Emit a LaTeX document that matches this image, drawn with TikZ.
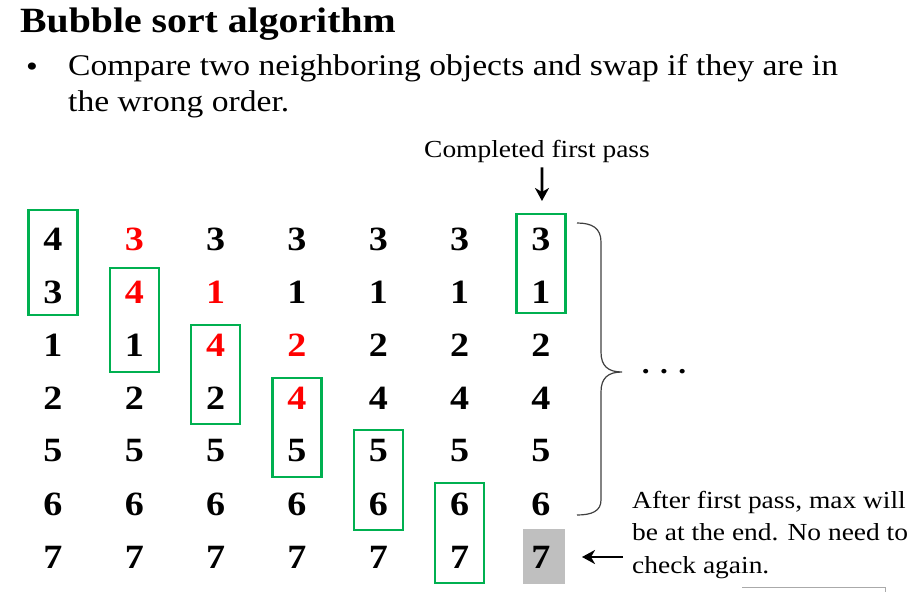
\documentclass[tikz,border=0pt]{standalone}
\usepackage{fontspec}
\setmainfont{Liberation Serif}[FakeStretch=1.12]
\usetikzlibrary{arrows.meta,calc}
\definecolor{boxgreen}{RGB}{0,176,80}
\definecolor{numred}{RGB}{255,0,0}
\definecolor{donegray}{RGB}{191,191,191}
\definecolor{bracegray}{RGB}{64,64,64}
\definecolor{framegray}{RGB}{170,170,170}
\tikzset{
  num/.style={font=\fontsize{34}{34}\selectfont\bfseries, inner sep=0pt, anchor=center},
  greenbox/.style={draw=boxgreen, line width=2.2pt},
  note/.style={font=\fontsize{24.5}{32.5}\selectfont, inner sep=0pt, align=left},
  pointer/.style={draw=black, line width=2.6pt, arrows={-Stealth[length=13pt, width=14pt, inset=4pt]}},
}
\begin{document}
\begin{tikzpicture}[x=1pt,y=-1pt]
\useasboundingbox (0,0) rectangle (922,592);

% heading and bullet
\node[anchor=west, inner sep=0pt, font=\fontsize{35.5}{35.5}\selectfont\bfseries] (title) at (20,24) {Bubble sort algorithm};
\node[anchor=center, inner sep=0pt, font=\fontsize{30}{30}\selectfont] (bullet) at (32,70) {\textbullet};
\node[anchor=north west, inner sep=0pt, align=left, font=\fontsize{30}{36}\selectfont] (desc) at (68,54)
  {Compare two neighboring objects and swap if they are in\\the wrong order.};

% the sorted-away maximum
\fill[donegray] (523,529) rectangle (565,584);

% columns of the first pass
\foreach \c/\vals in {
  1/{4/black,3/black,1/black,2/black,5/black,6/black,7/black},
  2/{3/numred,4/numred,1/black,2/black,5/black,6/black,7/black},
  3/{3/black,1/numred,4/numred,2/black,5/black,6/black,7/black},
  4/{3/black,1/black,2/numred,4/numred,5/black,6/black,7/black},
  5/{3/black,1/black,2/black,4/black,5/black,6/black,7/black},
  6/{3/black,1/black,2/black,4/black,5/black,6/black,7/black},
  7/{3/black,1/black,2/black,4/black,5/black,6/black,7/black}} {
  \foreach \v/\col [count=\r] in \vals {
    \node[num, text=\col] (n\c-\r) at ({53+81.33*(\c-1)},{239+53*(\r-1)}) {\v};
  }
}

% compared pairs
\draw[greenbox] ($(n1-1)+(-24.5,-29)$) rectangle ($(n1-2)+(24.5,23)$);
\draw[greenbox] ($(n2-2)+(-24.5,-24)$) rectangle ($(n2-3)+(24.5,27)$);
\draw[greenbox] ($(n3-3)+(-24.5,-20)$) rectangle ($(n3-4)+(24.5,26)$);
\draw[greenbox] ($(n4-4)+(-24.5,-20)$) rectangle ($(n4-5)+(24.5,26)$);
\draw[greenbox] ($(n5-5)+(-24.5,-21)$) rectangle ($(n5-6)+(24.5,26)$);
\draw[greenbox] ($(n6-6)+(-24.5,-21)$) rectangle ($(n6-7)+(24.5,26)$);
\draw[greenbox] ($(n7-1)+(-24.5,-25)$) rectangle ($(n7-2)+(24.5,21)$);
\coordinate (boxtop) at ($(n7-1)+(1,-38)$);

% brace over the remaining passes
\draw[bracegray, line width=1.2pt]
  (577,223) .. controls (592,223) and (601,228) .. (601,242)
  -- (601,352) .. controls (601,366) and (608,372) .. (622,372)
  .. controls (608,372) and (601,378) .. (601,392)
  -- (601,500) .. controls (601,511) and (592,515) .. (577,515);
\node[inner sep=0pt, font=\fontsize{28}{28}\selectfont\bfseries] (dots) at (664,372) {. . .};

% annotations
\node[inner sep=0pt, font=\fontsize{24.5}{24.5}\selectfont] (done) at (537,151) {Completed first pass};
\draw[pointer] ($(done.south)+(5,5)$) -- (boxtop);
\node[note, anchor=north west] (after) at (632,491)
  {After first pass, max will\\be at the end. No need to\\check again.};
\coordinate (maxright) at (582,557);
\draw[pointer] (623,557) -- (maxright);

% frame fragment at the lower edge
\draw[framegray, line width=1pt] (742,587) -- (885,587) -- (885,592);
\end{tikzpicture}
\end{document}
